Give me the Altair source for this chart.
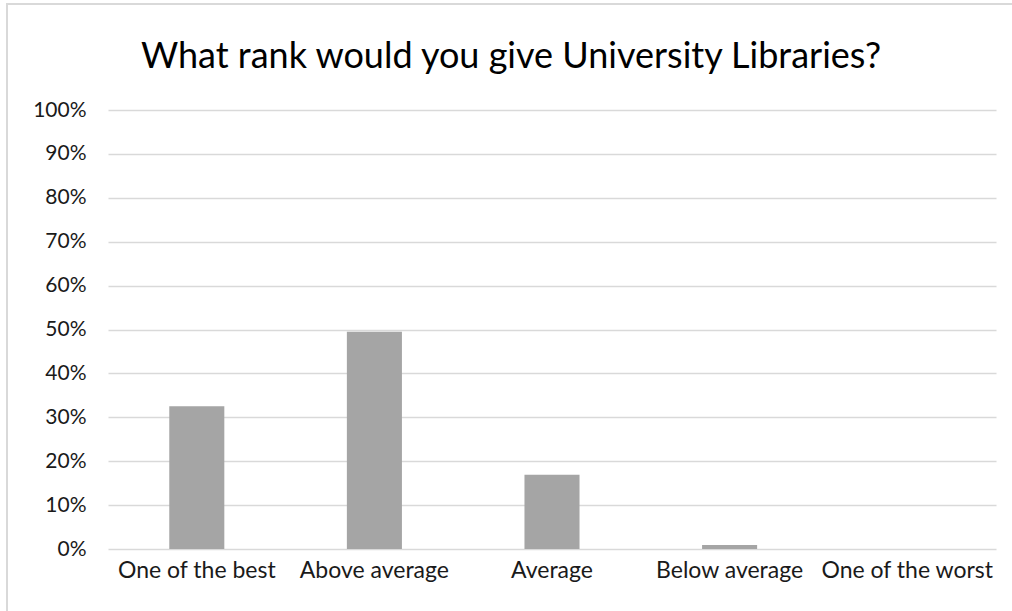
import altair as alt
import pandas as pd

categories = ["One of the best", "Above average", "Average", "Below average", "One of the worst"]
shares = [0.325, 0.495, 0.169, 0.009, 0.0]
title_text = "What rank would you give University Libraries?"

df = pd.DataFrame({"category": categories, "share": shares})

FONT = "Lato"

bars = alt.Chart(df).mark_bar(color="#A5A5A5").encode(
    x=alt.X("category:N", sort=categories, title=None,
            scale=alt.Scale(paddingInner=0.69, paddingOuter=0.345),
            axis=alt.Axis(labelAngle=0, labelFontSize=23, labelFont=FONT, labelColor="#1a1a1a",
                          ticks=False, domain=False, labelPadding=10, grid=False)),
    y=alt.Y("share:Q", title=None,
            scale=alt.Scale(domain=[0, 1], nice=False),
            axis=alt.Axis(format=".0%", values=[i / 10 for i in range(11)], labelFontSize=21,
                          labelFont=FONT, labelColor="#1a1a1a", ticks=False, domain=False,
                          labelPadding=22, gridColor="#D9D9D9", gridWidth=1.5)),
)

border = alt.Chart(df).mark_rect(fill=None, stroke="#D9D9D9", strokeWidth=2).encode(
    x=alt.value(-101), x2=alt.value(930), y=alt.value(-106), y2=alt.value(520)
)

title = alt.Chart(pd.DataFrame({"t": [title_text]})).mark_text(
    font=FONT, fontSize=36, color="#000000", align="center", baseline="middle"
).encode(text="t:N", x=alt.value(403), y=alt.value(-53))

chart = alt.layer(border, bars, title).properties(
    width=888,
    height=439,
    padding={"left": 108, "top": 110, "right": 16, "bottom": 62},
    autosize=alt.AutoSizeParams(type="none"),
    background="white",
).configure_view(stroke=None)

chart.save("out.html", embed_options={"renderer": "svg", "actions": False})
